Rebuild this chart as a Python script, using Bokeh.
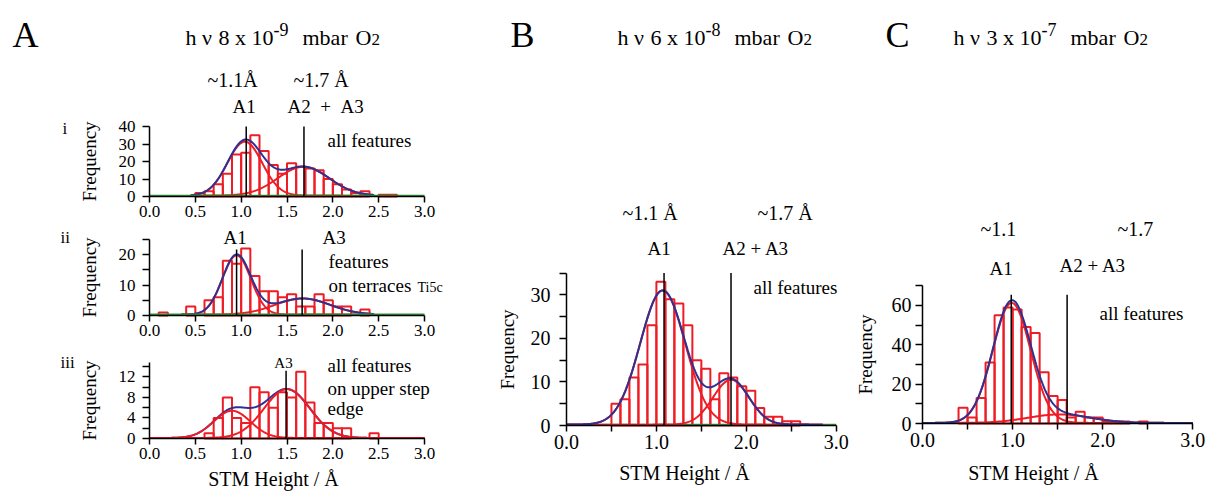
import numpy as np
from bokeh.plotting import figure
from bokeh.layouts import row, column
from bokeh.models import Label, FixedTicker, PrintfTickFormatter, Range1d
from bokeh.embed import file_html
from bokeh.resources import INLINE

# ---------------- data ----------------
BIN_WIDTH = 0.1

# Panel A-i : all features
ai_bin_left = [0.5, 0.6, 0.7, 0.8, 0.9, 1.0, 1.1, 1.2, 1.3, 1.4, 1.5, 1.6, 1.7, 1.8, 1.9, 2.0, 2.1, 2.2, 2.3, 2.5, 2.6]
ai_counts = [2, 3, 7, 13, 24, 25, 35, 26, 18, 13, 19, 17, 16, 15, 10, 7, 4, 2, 3, 1, 1]
ai_fit_center = [1.04, 1.68]
ai_fit_height = [30.8, 16.5]
ai_fit_width = [0.19, 0.28]
ai_fit_base = 0.5
ai_fit_span = [0.45, 2.45]
ai_marker_x = [1.055, 1.685]
ai_marker_top = 40

# Panel A-ii : features on terraces
aii_bin_left = [0.1, 0.4, 0.6, 0.7, 0.8, 0.9, 1.0, 1.1, 1.2, 1.3, 1.4, 1.5, 1.6, 1.7, 1.8, 1.9, 2.0, 2.1, 2.3]
aii_counts = [1, 3, 5, 6, 18, 17, 22, 13, 8, 8, 6, 7, 3, 3, 7, 5, 3, 3, 2]
aii_fit_center = [0.95, 1.67]
aii_fit_height = [19.5, 5.3]
aii_fit_width = [0.155, 0.30]
aii_fit_base = 0.3
aii_fit_span = [0.35, 2.45]
aii_marker_x = [0.95, 1.665]
aii_marker_top = 21.7

# Panel A-iii : features on upper step edge
aiii_bin_left = [0.6, 0.7, 0.8, 0.9, 1.0, 1.1, 1.2, 1.3, 1.4, 1.5, 1.6, 1.7, 1.8, 1.9, 2.0, 2.1, 2.4]
aiii_counts = [1, 4, 8, 4, 3, 10, 9, 6, 9, 8, 13, 7, 3, 3, 2, 2, 1]
aiii_fit_center = [0.9, 1.5]
aiii_fit_height = [5.3, 9.5]
aiii_fit_width = [0.2, 0.25]
aiii_fit_base = 0.1
aiii_fit_span = [0.0, 3.0]
aiii_marker_x = [1.49]
aiii_marker_top = 13.2

# Panel B
b_bin_left = [0.5, 0.6, 0.7, 0.8, 0.9, 1.0, 1.1, 1.2, 1.3, 1.4, 1.5, 1.6, 1.7, 1.8, 1.9, 2.0, 2.1, 2.2, 2.3, 2.4, 2.5]
b_counts = [5, 6, 11, 14, 23, 33, 29, 28, 23, 15, 13, 6, 12, 11, 9, 8, 4, 2, 2, 1, 1]
b_fit_center = [1.07, 1.83]
b_fit_height = [30.8, 10.3]
b_fit_width = [0.25, 0.20]
b_fit_base = 0.2
b_fit_span = [0.0, 2.85]
b_marker_x = [1.085, 1.83]
b_marker_top = 35

# Panel C
c_bin_left = [0.4, 0.5, 0.6, 0.7, 0.8, 0.9, 1.0, 1.1, 1.2, 1.3, 1.4, 1.5, 1.6, 1.7, 1.8, 1.9, 2.0, 2.1, 2.2, 2.4]
c_counts = [8, 3, 13, 31, 55, 59, 58, 49, 46, 26, 14, 12, 3, 6, 3, 3, 1, 1, 1, 1]
c_fit_center = [0.99, 1.52]
c_fit_height = [61.0, 4.3]
c_fit_width = [0.21, 0.35]
c_fit_base = 0.3
c_fit_span = [0.0, 3.0]
c_marker_x = [0.985, 1.605]
c_marker_top = 65.4

header_mantissa = ["8", "6", "3"]
header_exponent = ["-9", "-8", "-7"]
x_ticks_A = [0.0, 0.5, 1.0, 1.5, 2.0, 2.5, 3.0]
x_ticks_BC = [0.0, 1.0, 2.0, 3.0]
x_minor_BC = [0.5, 1.5, 2.5]

# ---------------- style ----------------
FONT = "Liberation Serif"
RED = "#ee1c24"
BLUE = "#2e3192"
GREEN = "#2f9a3a"
NB = "\u00a0"


class Panel:
    """A figure whose frame fills the whole figure; axes are pinned at data 0."""

    def __init__(self, x0, x1, y0, y1, px0, sx, py0, sy):
        self.x0, self.y1 = x0, y1
        self.p = figure(width=x1 - x0, height=y1 - y0,
                        x_range=Range1d((x0 - px0) / sx, (x1 - px0) / sx),
                        y_range=Range1d((py0 - y1) / sy, (py0 - y0) / sy),
                        output_backend="svg", toolbar_location=None, title=None,
                        min_border=0)
        p = self.p
        try:
            p.frame_align = False
        except Exception:
            pass
        p.xgrid.visible = False
        p.ygrid.visible = False
        p.outline_line_color = None
        p.background_fill_color = "white"
        p.border_fill_color = "white"

    def txt(self, x, y, text, size, align="left"):
        # y is the wanted baseline (page px); bokeh's svg text sits ~0.35em lower
        yb = y - 0.35 * size
        self.p.add_layout(Label(x=x - self.x0, y=self.y1 - yb, x_units="screen", y_units="screen",
                                text=text, text_font=FONT, text_font_size=f"{size}px",
                                text_align=align, text_baseline="alphabetic", text_color="black"))

    def header(self, letter, lx, x0, mant, expo):
        self.txt(lx, 47, letter, 36)
        self.txt(x0, 45, "h" + NB + "ν", 22)
        self.txt(x0 + 33, 45, f"{mant} x 10", 22)
        self.txt(x0 + 88, 35, expo, 18)
        self.txt(x0 + 117, 45, "mbar", 22)
        self.txt(x0 + 170, 45, "O", 22)
        self.txt(x0 + 186, 45, "2", 17)


def style_axes(p, ytop, xticks, xminor, yticks, yminor, tick_size, ytick_standoff, ylab_standoff):
    xa = p.xaxis[0]
    ya = p.yaxis[0]
    xa.fixed_location = 0
    ya.fixed_location = 0
    xa.bounds = (0, 3)
    ya.bounds = (0, ytop)
    xa.ticker = FixedTicker(ticks=xticks, minor_ticks=xminor)
    xa.formatter = PrintfTickFormatter(format="%.1f")
    ya.ticker = FixedTicker(ticks=yticks, minor_ticks=yminor)
    for ax in (xa, ya):
        ax.axis_line_color = "black"
        ax.axis_line_width = 1.5
        ax.major_tick_line_color = "black"
        ax.major_tick_line_width = 1.5
        ax.minor_tick_line_color = "black"
        ax.minor_tick_line_width = 1.5
        ax.major_tick_in = 0
        ax.minor_tick_in = 0
        ax.major_tick_out = 7
        ax.minor_tick_out = 7
        ax.major_label_text_font = FONT
        ax.major_label_text_font_size = f"{tick_size}px"
        ax.major_label_text_color = "black"
    xa.major_tick_out = 6
    xa.minor_tick_out = 6
    xa.major_label_standoff = 3
    ya.major_label_standoff = ytick_standoff
    ya.axis_label = "Frequency"
    ya.axis_label_text_font = FONT
    ya.axis_label_text_font_size = "19px"
    ya.axis_label_text_font_style = "normal"
    ya.axis_label_text_color = "black"
    ya.axis_label_standoff = ylab_standoff


def gauss(x, c, h, w):
    return h * np.exp(-(x - c) ** 2 / (2 * w ** 2))


def draw_hist(p, bin_left, counts):
    left = np.array(bin_left)
    p.quad(left=left, right=left + BIN_WIDTH, bottom=0, top=counts,
           fill_alpha=0, line_color=RED, line_width=2)


def draw_fit(p, centers, heights, widths, base, span, order="blue_top", green=None):
    x = np.linspace(span[0], span[1], 400)
    comps = [base + gauss(x, c, h, w) for c, h, w in zip(centers, heights, widths)]
    total = base + sum(gauss(x, c, h, w) for c, h, w in zip(centers, heights, widths))
    if green == "under":
        p.line([0, 3], [base, base], line_color=GREEN, line_width=2)
    if order == "blue_top":
        for cy in comps:
            p.line(x, cy, line_color=RED, line_width=2)
        p.line(x, total, line_color=BLUE, line_width=2)
    else:
        p.line(x, total, line_color=BLUE, line_width=2)
        for cy in comps:
            p.line(x, cy, line_color=RED, line_width=2)
    if green == "over":
        p.line([0, 3], [base, base], line_color=GREEN, line_width=2)


def draw_markers(p, xs, top):
    p.segment(x0=xs, y0=[0] * len(xs), x1=xs, y1=[top] * len(xs), line_color="black", line_width=1.5)


# ---------------- Panel A-i ----------------
A1 = Panel(0, 450, 0, 224, 149, 91.67, 196, 1.75)
style_axes(A1.p, 40, x_ticks_A, [], [0, 10, 20, 30, 40], [], 17, 7, 16)
draw_hist(A1.p, ai_bin_left, ai_counts)
draw_fit(A1.p, ai_fit_center, ai_fit_height, ai_fit_width, ai_fit_base, ai_fit_span, "blue_top", green="over")
draw_markers(A1.p, ai_marker_x, ai_marker_top)
A1.header("A", 12, 185, header_mantissa[0], header_exponent[0])
A1.txt(207, 86, "~1.1Å", 20)
A1.txt(293, 86, "~1.7 Å", 20)
A1.txt(232, 113, "A1", 19)
A1.txt(287, 113, "A2" + NB + NB + "+" + NB + NB + "A3", 19)
A1.txt(327, 147, "all features", 19)
A1.txt(62, 134, "i", 17)

# ---------------- Panel A-ii ----------------
A2 = Panel(0, 450, 224, 351, 149, 91.67, 315, 3.04)
style_axes(A2.p, 25, x_ticks_A, [], [0, 10, 20], [5, 15, 25], 17, 7, 16)
draw_hist(A2.p, aii_bin_left, aii_counts)
draw_fit(A2.p, aii_fit_center, aii_fit_height, aii_fit_width, aii_fit_base, aii_fit_span, "blue_top", green="over")
draw_markers(A2.p, aii_marker_x, aii_marker_top)
A2.txt(60, 243, "ii", 17)
A2.txt(223, 244, "A1", 19)
A2.txt(322, 244, "A3", 19)
A2.txt(328, 268, "features", 19)
A2.txt(328, 292, "on terraces", 19)
A2.txt(417, 292, "Ti5c", 14)

# ---------------- Panel A-iii ----------------
A3 = Panel(0, 450, 351, 493, 149, 91.67, 438, 5.135)
style_axes(A3.p, 14.8, x_ticks_A, [], [0, 4, 8, 12], [2, 6, 10, 14], 17, 7, 16)
draw_hist(A3.p, aiii_bin_left, aiii_counts)
draw_fit(A3.p, aiii_fit_center, aiii_fit_height, aiii_fit_width, aiii_fit_base, aiii_fit_span, "red_top")
draw_markers(A3.p, aiii_marker_x, aiii_marker_top)
A3.txt(60, 368, "iii", 17)
A3.txt(283, 368, "A3", 15, align="center")
A3.txt(327, 372, "all features", 19)
A3.txt(327, 395, "on upper step", 19)
A3.txt(327, 415, "edge", 19)
A3.txt(273, 485, "STM Height / Å", 20, align="center")

# ---------------- Panel B ----------------
B = Panel(450, 850, 0, 493, 566, 89.9, 425, 4.357)
style_axes(B.p, 35, x_ticks_BC, x_minor_BC, [0, 10, 20, 30], [5, 15, 25, 35], 20, 9, 10)
draw_hist(B.p, b_bin_left, b_counts)
draw_fit(B.p, b_fit_center, b_fit_height, b_fit_width, b_fit_base, b_fit_span, "blue_top", green="under")
draw_markers(B.p, b_marker_x, b_marker_top)
B.header("B", 510, 617, header_mantissa[1], header_exponent[1])
B.txt(622, 219, "~1.1 Å", 20)
B.txt(757, 219, "~1.7 Å", 20)
B.txt(647, 255, "A1", 19)
B.txt(722, 255, "A2 + A3", 19)
B.txt(753, 294, "all features", 19)
B.txt(684, 479, "STM Height / Å", 20, align="center")

# ---------------- Panel C ----------------
C = Panel(850, 1207, 0, 493, 922, 90.1, 423, 1.967)
style_axes(C.p, 70, x_ticks_BC, x_minor_BC, [0, 20, 40, 60], [10, 30, 50, 70], 20, 4, 13)
draw_hist(C.p, c_bin_left, c_counts)
draw_fit(C.p, c_fit_center, c_fit_height, c_fit_width, c_fit_base, c_fit_span, "blue_top")
draw_markers(C.p, c_marker_x, c_marker_top)
C.header("C", 885, 953, header_mantissa[2], header_exponent[2])
C.txt(980, 235, "~1.1", 20)
C.txt(1117, 235, "~1.7", 20)
C.txt(989, 275, "A1", 19)
C.txt(1059, 272, "A2 + A3", 19)
C.txt(1099, 320, "all features", 19)
C.txt(1033, 479, "STM Height / Å", 20, align="center")

layout = row(column(A1.p, A2.p, A3.p, spacing=0), B.p, C.p, spacing=0)
open("out.html", "w").write(file_html(layout, INLINE))
